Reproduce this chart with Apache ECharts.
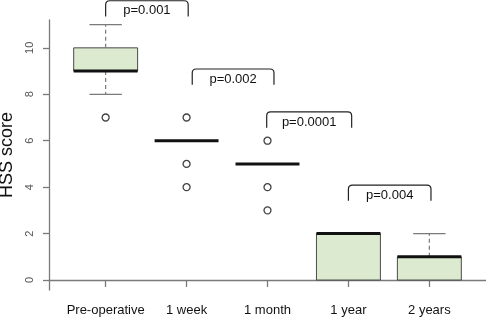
<!DOCTYPE html>
<html>
<head>
<meta charset="utf-8">
<script src="https://cdn.jsdelivr.net/npm/echarts@6/dist/echarts.min.js"></script>
<style>
  html, body { margin: 0; padding: 0; background: #fff; }
  #chart { width: 486px; height: 319px; }
</style>
</head>
<body>
<div id="chart"></div>
<script>
// groups on the x axis
const categories = ['Pre-operative', '1 week', '1 month', '1 year', '2 years']
// [lower whisker, Q1, median, Q3, upper whisker]
const boxStats = [
  [8, 9, 9, 10, 11],
  [6, 6, 6, 6, 6],
  [5, 5, 5, 5, 5],
  [0, 0, 2, 2, 2],
  [0, 0, 1, 1, 2]
]
// outliers: [group (1-based), value]
const outliers = [[1, 7], [2, 7], [2, 5], [2, 4], [3, 6], [3, 4], [3, 3]]
// significance brackets: [from group, to group, bracket top]
const brackets = [[1.0, 2.02, 12.03], [2.07, 3.08, 9.09], [2.99, 4.04, 7.24], [4.0, 5.02, 4.09]]
const pLabels = ['p=0.001', 'p=0.002', 'p=0.0001', 'p=0.004']
const yTicks = [0, 2, 4, 6, 8, 10]

const chart = echarts.init(document.getElementById('chart'), null, { renderer: 'canvas' })

const AXIS = '#7a7a7a'
const BOX_W = 0.79   // box width in x units
const CAP_W = 0.40

function renderBox(params, api) {
  const i = api.value(0)
  const lo = api.value(1), q1 = api.value(2), med = api.value(3), q3 = api.value(4), hi = api.value(5)
  const pL = api.coord([i - BOX_W / 2, q3])
  const pR = api.coord([i + BOX_W / 2, q1])
  const cL = api.coord([i - CAP_W / 2, hi])[0]
  const cR = api.coord([i + CAP_W / 2, hi])[0]
  const cx = api.coord([i, 0])[0]
  const yHi = api.coord([i, hi])[1], yLo = api.coord([i, lo])[1]
  const yQ1 = api.coord([i, q1])[1], yQ3 = api.coord([i, q3])[1]
  const yMed = api.coord([i, med])[1]
  const children = []
  if (q3 > q1) {
    children.push({
      type: 'rect',
      shape: { x: pL[0], y: pL[1], width: pR[0] - pL[0], height: pR[1] - pL[1] },
      style: { fill: '#dcebcf', stroke: '#4a4a4a', lineWidth: 1 }
    })
  }
  if (hi > q3) {
    children.push({ type: 'line', shape: { x1: cx, y1: yQ3, x2: cx, y2: yHi },
      style: { stroke: AXIS, lineWidth: 1.2, lineDash: [4, 3] } })
    children.push({ type: 'line', shape: { x1: cL, y1: yHi, x2: cR, y2: yHi },
      style: { stroke: AXIS, lineWidth: 1.2 } })
  }
  if (lo < q1) {
    children.push({ type: 'line', shape: { x1: cx, y1: yQ1, x2: cx, y2: yLo },
      style: { stroke: AXIS, lineWidth: 1.2, lineDash: [4, 3] } })
    children.push({ type: 'line', shape: { x1: cL, y1: yLo, x2: cR, y2: yLo },
      style: { stroke: AXIS, lineWidth: 1.2 } })
  }
  children.push({ type: 'line', shape: { x1: pL[0], y1: yMed, x2: pR[0], y2: yMed },
    style: { stroke: '#111', lineWidth: 3 } })
  return { type: 'group', children }
}

function renderBracket(params, api) {
  const a = api.coord([api.value(0), api.value(2)])
  const b = api.coord([api.value(1), api.value(2)])
  const leg = api.size([0, 0.68])[1]
  const r = 4
  return {
    type: 'group',
    children: [
      {
        type: 'path',
        shape: {
          pathData: `M${a[0]},${a[1] + leg} L${a[0]},${a[1] + r} Q${a[0]},${a[1]} ${a[0] + r},${a[1]}` +
            ` L${b[0] - r},${b[1]} Q${b[0]},${b[1]} ${b[0]},${b[1] + r} L${b[0]},${b[1] + leg}`
        },
        style: { fill: 'none', stroke: '#222', lineWidth: 1.2 }
      },
      {
        type: 'text',
        x: (a[0] + b[0]) / 2, y: a[1] + 10,
        style: { text: pLabels[params.dataIndex], fill: '#111', font: '13px "Liberation Sans", Arial, sans-serif',
          align: 'center', verticalAlign: 'middle' }
      }
    ]
  }
}

chart.setOption({
  backgroundColor: '#fff',
  animation: false,
  grid: { left: 49, right: 0, top: 20, bottom: 29, outerBoundsMode: 'none', containLabel: false },
  xAxis: {
    type: 'value', min: 0.3, max: 5.7,
    splitLine: { show: false },
    axisLine: { show: true, lineStyle: { color: AXIS, width: 1.3 } },
    axisTick: { show: true, length: 7, customValues: [1, 2, 3, 4, 5], lineStyle: { color: AXIS, width: 1.3 } },
    axisLabel: {
      customValues: [1, 2, 3, 4, 5], margin: 14,
      formatter: v => categories[Math.round(v) - 1],
      color: '#111', fontSize: 13, fontFamily: 'Liberation Sans'
    }
  },
  yAxis: {
    type: 'value', min: -0.43, max: 11.2,
    name: 'HSS score', nameLocation: 'middle', nameGap: 29, nameRotate: 90,
    nameTextStyle: { fontSize: 18, color: '#111', fontFamily: 'Liberation Sans' },
    splitLine: { show: false },
    axisLine: { show: true, lineStyle: { color: AXIS, width: 1.3 } },
    axisTick: { show: true, length: 6, customValues: yTicks, lineStyle: { color: AXIS, width: 1.3 } },
    axisLabel: {
      customValues: yTicks, rotate: 90, margin: 14,
      color: '#555', fontSize: 11, fontFamily: 'Liberation Sans'
    }
  },
  series: [
    {
      type: 'custom',
      renderItem: renderBox,
      data: boxStats.map((s, i) => [i + 1, ...s]),
      encode: { x: 0, y: [1, 5] },
      clip: false, z: 2
    },
    {
      type: 'scatter',
      data: outliers,
      symbol: 'circle', symbolSize: 7,
      itemStyle: { color: '#fff', borderColor: '#111', borderWidth: 1.3 },
      z: 3
    },
    {
      type: 'custom',
      renderItem: renderBracket,
      data: brackets,
      encode: { x: [0, 1], y: 2 },
      clip: false, z: 4
    }
  ]
})
</script>
</body>
</html>
